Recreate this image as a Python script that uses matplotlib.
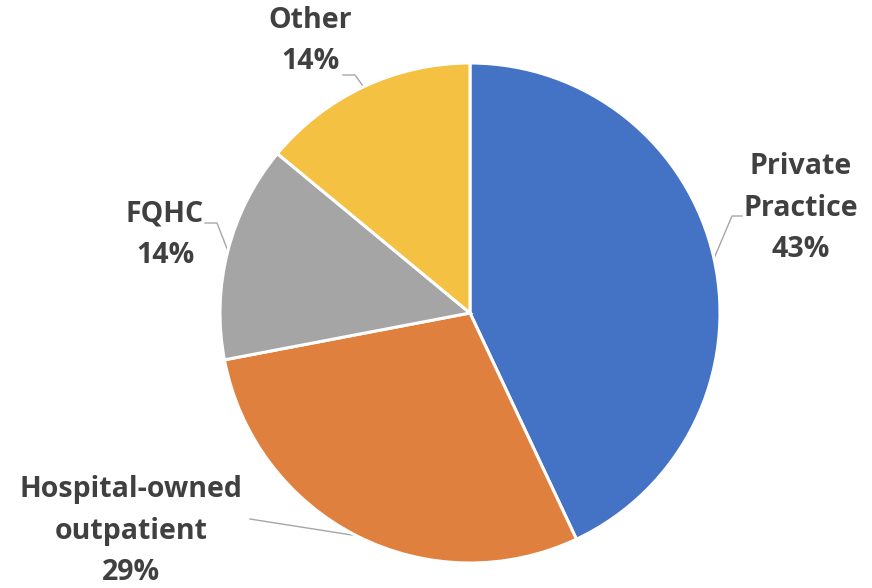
import numpy as np
import matplotlib
matplotlib.use("Agg")
import matplotlib.pyplot as plt

# slice data (percent shares as labelled)
labels = ["Private\nPractice", "Hospital-owned\noutpatient", "FQHC", "Other"]
shares = [43, 29, 14, 14]
colors = ["#4472C4", "#E0803F", "#A5A5A5", "#F5C142"]

# layout in pixel space (y measured from bottom)
W, H = 872, 588
CX, CY, R = 470, 588 - 313, 250
label_xy = [(801, 588 - 208), (131, 588 - 531), (165, 588 - 235), (310, 588 - 41)]
# leader elbows: list of intermediate/end points per slice
leaders = [
    [(732, 588 - 216), (742, 588 - 216)],
    [(250, 588 - 519)],
    [(217, 588 - 223), (205, 588 - 223)],
    [(355, 588 - 75), (343, 588 - 75)],
]

fig = plt.figure(figsize=(W / 100, H / 100), dpi=100)
ax = fig.add_axes([0, 0, 1, 1])

wedges, _ = ax.pie(shares, colors=colors, startangle=90, counterclock=False,
                   center=(CX, CY), radius=R, frame=True,
                   wedgeprops=dict(edgecolor="white", linewidth=2.2))
ax.set_xlim(0, W)
ax.set_ylim(0, H)
ax.set_aspect("equal")
ax.axis("off")

for w, lab, share, (tx, ty), pts in zip(wedges, labels, shares, label_xy, leaders):
    mid = np.deg2rad((w.theta1 + w.theta2) / 2)
    sx, sy = CX + R * np.cos(mid), CY + R * np.sin(mid)
    xs = [sx] + [p[0] for p in pts]
    ys = [sy] + [p[1] for p in pts]
    ax.plot(xs, ys, color="#A6A6A6", lw=1.0, zorder=0.5)
    ax.text(tx, ty, f"{lab}\n{share}%", ha="center", va="center",
            fontsize=20.5, fontweight="bold", family="Open Sans",
            color="#404040", linespacing=1.58)

fig.savefig("out.png", dpi=100)
